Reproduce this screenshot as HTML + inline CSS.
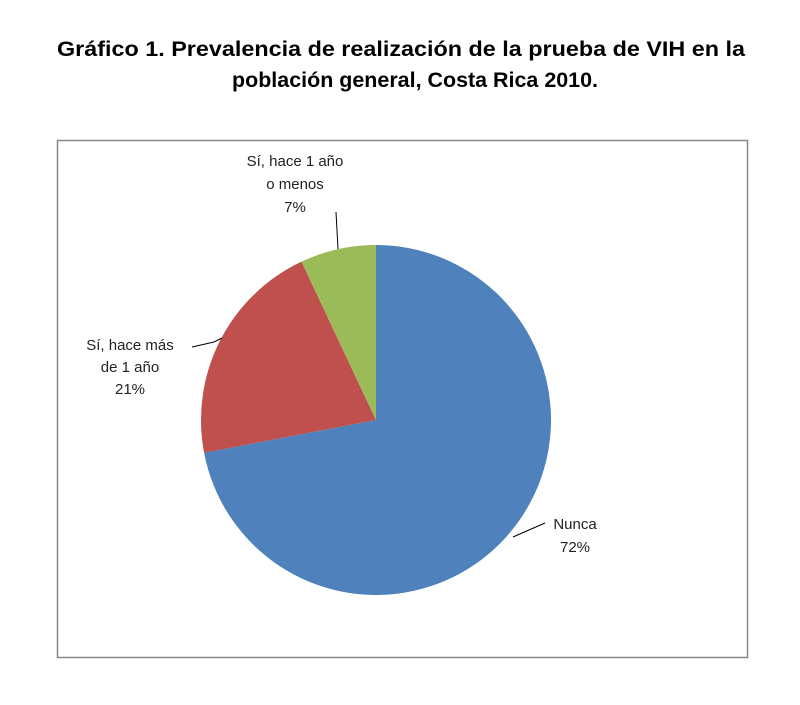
<!DOCTYPE html>
<html><head><meta charset="utf-8"><style>
body{margin:0;background:#fff;width:800px;height:700px;overflow:hidden;font-family:"Liberation Sans",sans-serif}
</style></head><body>
<svg width="800" height="700">
<text x="57" y="56" textLength="688" lengthAdjust="spacingAndGlyphs" font-weight="bold" font-size="21">Gráfico 1. Prevalencia de  realización de la prueba de VIH en la</text>
<text x="232" y="87" textLength="366" lengthAdjust="spacingAndGlyphs" font-weight="bold" font-size="21">población general, Costa Rica 2010.</text>
<rect x="57.5" y="140.5" width="690" height="517" fill="#fff" stroke="#888" stroke-width="1.5"/>
<g id="slices"></g>
<g font-size="15" fill="#222" text-anchor="middle">
<text x="295" y="166">Sí, hace 1 año</text>
<text x="295" y="189">o menos</text>
<text x="295" y="212">7%</text>
<text x="130" y="350">Sí, hace más</text>
<text x="130" y="372">de 1 año</text>
<text x="130" y="394">21%</text>
<text x="575" y="529">Nunca</text>
<text x="575" y="552">72%</text>
</g>
<g stroke="#000" stroke-width="1" fill="none">
<polyline points="336,212 338,249"/>
<polyline points="192,347 214,342 222,338"/>
<polyline points="513,537 545,523"/>
</g>
</svg>
<script>
const categories=["Nunca","Sí, hace más de 1 año","Sí, hace 1 año o menos"];
const values=[72,21,7];
const colors=["#4f81bd","#c0504d","#9bbb59"];
const cx=376,cy=420,r=175;
const g=document.getElementById('slices');
const total=values.reduce((a,b)=>a+b,0);
let a0=0;
values.forEach((v,i)=>{
  const a1=a0+v/total*2*Math.PI;
  const x0=cx+r*Math.sin(a0),y0=cy-r*Math.cos(a0),x1=cx+r*Math.sin(a1),y1=cy-r*Math.cos(a1);
  const p=document.createElementNS('http://www.w3.org/2000/svg','path');
  p.setAttribute('d',`M${cx},${cy}L${x0},${y0}A${r},${r} 0 ${a1-a0>Math.PI?1:0} 1 ${x1},${y1}Z`);
  p.setAttribute('fill',colors[i]);
  
  
  g.appendChild(p);
  a0=a1;
});
</script>
</body></html>
